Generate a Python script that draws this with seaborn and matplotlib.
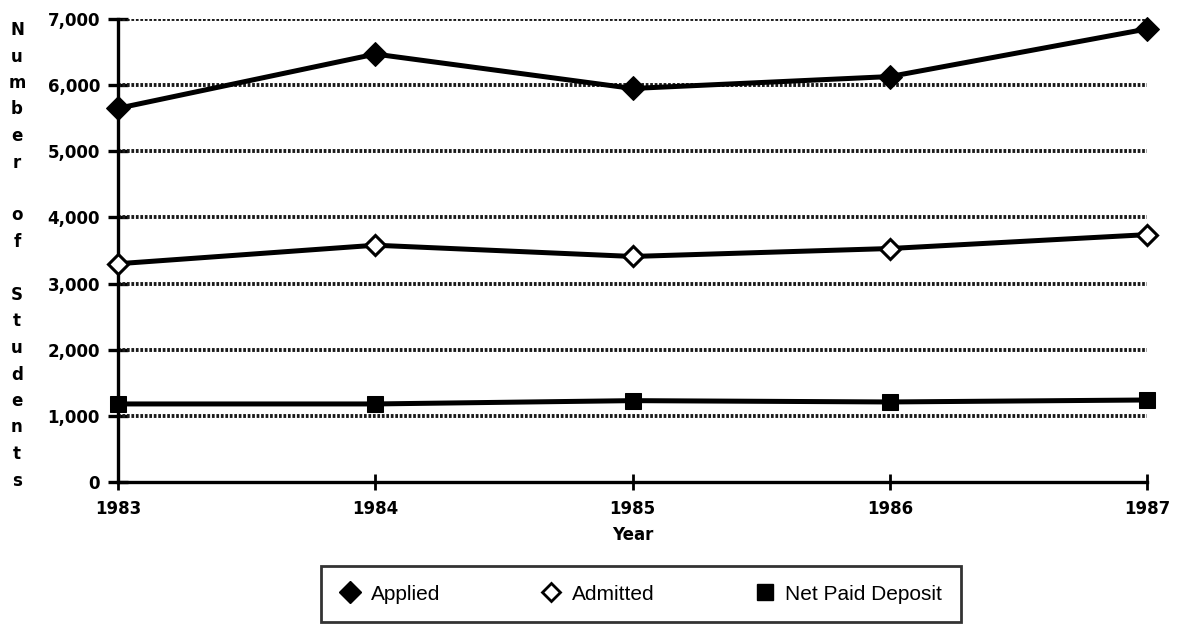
import matplotlib
matplotlib.use("Agg")
import matplotlib.pyplot as plt
from matplotlib.lines import Line2D
from matplotlib.ticker import FuncFormatter
import pandas as pd
import seaborn as sns

# values
years = [1983, 1984, 1985, 1986, 1987]
applied = [5650, 6470, 5950, 6130, 6850]
admitted = [3300, 3580, 3410, 3530, 3740]
net_paid_deposit = [1180, 1180, 1230, 1210, 1240]

series_names = ["Applied", "Admitted", "Net Paid Deposit"]
y_ticks = [0, 1000, 2000, 3000, 4000, 5000, 6000, 7000]

sns.set_style("white")
plt.rcParams["font.family"] = ["DejaVu Sans"]
plt.rcParams.update({"text.color": "black", "axes.labelcolor": "black",
                     "xtick.color": "black", "ytick.color": "black"})

df = pd.DataFrame({"Year": years, "Applied": applied,
                   "Admitted": admitted, "Net Paid Deposit": net_paid_deposit})

fig = plt.figure(figsize=(11.79, 6.28), dpi=100)
ax = fig.add_axes([0.1001, 0.2325, 0.8728, 0.7372])

# hatched-looking horizontal gridlines
for v in y_ticks[1:]:
    ax.axhline(v, color="#1a1a1a", lw=2.8, ls=(0, (0.7, 0.45)), zorder=1)

styles = {
    "Applied": dict(marker="D", markersize=12, markerfacecolor="black"),
    "Admitted": dict(marker="D", markersize=10, markerfacecolor="white",
                     markeredgewidth=2.2),
    "Net Paid Deposit": dict(marker="s", markersize=12, markerfacecolor="black"),
}
for name in series_names:
    sns.lineplot(data=df, x="Year", y=name, ax=ax, color="black", lw=3.6,
                 markeredgecolor="black", clip_on=False, zorder=3,
                 **styles[name])

ax.set_xlim(1983, 1987)
ax.set_ylim(0, 7000)
ax.set_xticks(years)
ax.set_yticks(y_ticks)
ax.yaxis.set_major_formatter(FuncFormatter(lambda v, p: f"{int(v):,}"))

for s in ["top", "right"]:
    ax.spines[s].set_visible(False)
for s in ["left", "bottom"]:
    ax.spines[s].set_linewidth(2.4)
    ax.spines[s].set_color("black")

ax.tick_params(axis="y", direction="inout", length=14, width=2.4, pad=6,
               labelsize=12, left=True)
ax.tick_params(axis="x", direction="inout", length=12, width=2.0, pad=7,
               labelsize=12, bottom=True)
for lab in ax.get_xticklabels() + ax.get_yticklabels():
    lab.set_fontweight("bold")

ax.set_xlabel("Year", fontsize=12, fontweight="bold", labelpad=6)
ax.set_ylabel("")

# stacked vertical y label
label_text = "Number  of  Students"
row = 0
for ch in label_text:
    if ch != " ":
        fig.text(17 / 1179, 1 - (30 + row * 26.5) / 628, ch, ha="center",
                 va="center", fontsize=12, fontweight="bold")
        row += 1
    else:
        row += 0.5

handles = [
    Line2D([], [], ls="none", marker="D", markersize=11, color="black"),
    Line2D([], [], ls="none", marker="D", markersize=9, markerfacecolor="white",
           markeredgecolor="black", markeredgewidth=2),
    Line2D([], [], ls="none", marker="s", markersize=11, color="black"),
]
leg = fig.legend(handles, series_names, loc="center", ncol=3,
                 bbox_to_anchor=(641 / 1179, 1 - 594 / 628),
                 prop={"family": "Liberation Sans", "size": 15},
                 frameon=True, fancybox=False,
                 handlelength=1.0, handletextpad=0.5, columnspacing=4.8,
                 borderpad=0.9)
leg.get_frame().set_linewidth(2.0)
leg.get_frame().set_edgecolor("black")

fig.savefig("out.png", dpi=100)
